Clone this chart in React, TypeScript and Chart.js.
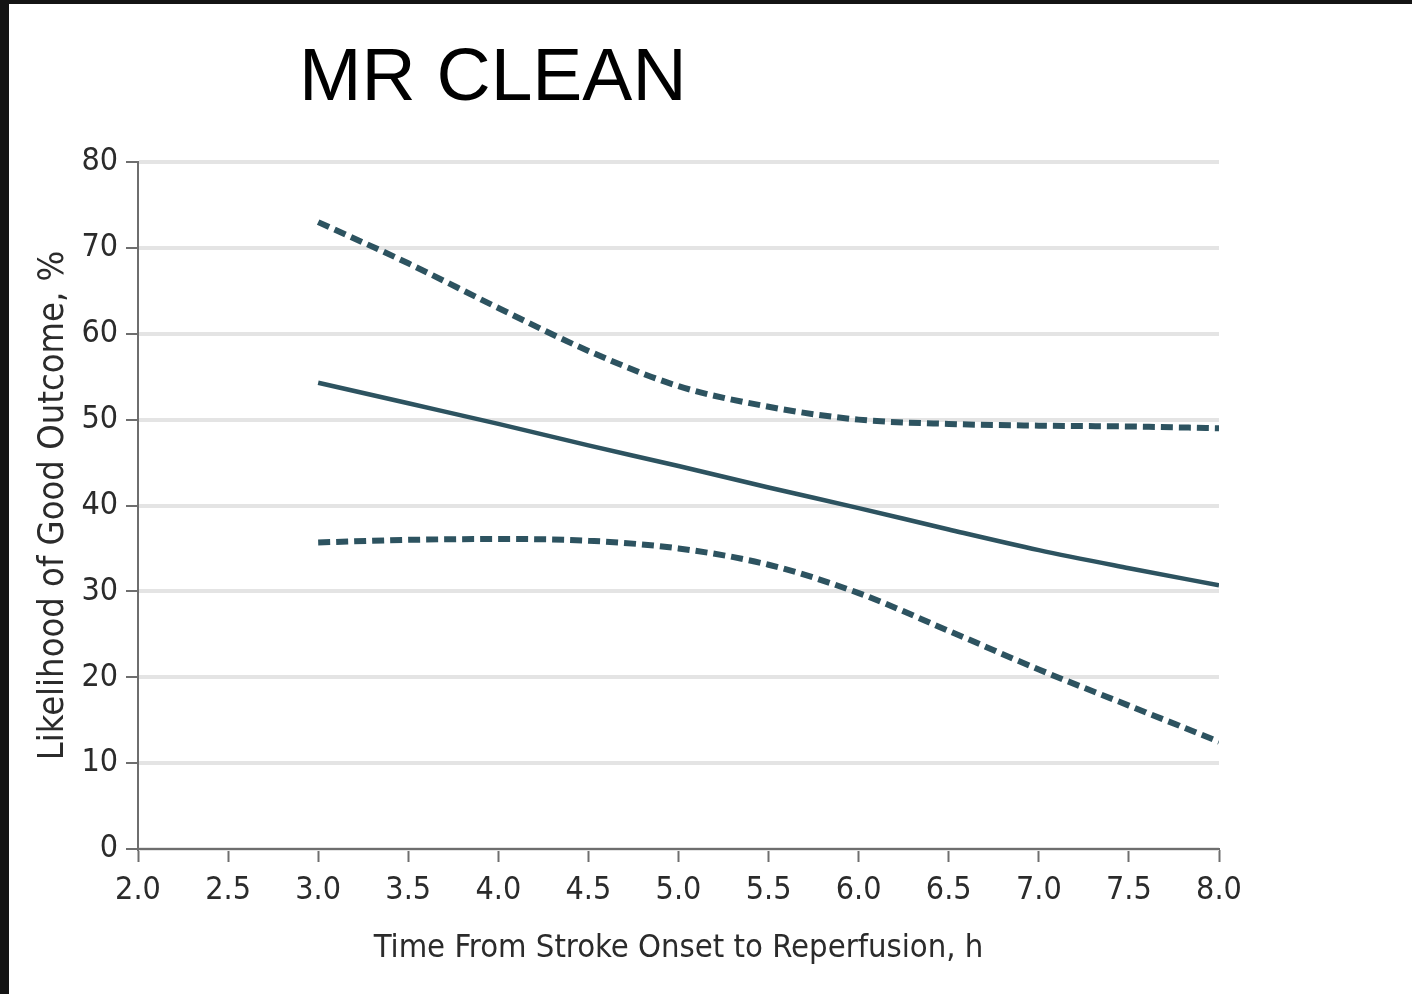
import React, { useEffect, useRef } from "react";
import { Chart, registerables } from "chart.js";

Chart.register(...registerables);

const TITLE = "MR CLEAN";
const X_TITLE = "Time From Stroke Onset to Reperfusion, h";
const Y_TITLE = "Likelihood of Good Outcome, %";

const hours = [3.0, 3.5, 4.0, 4.5, 5.0, 5.5, 6.0, 6.5, 7.0, 7.5, 8.0];
const estimate = [54.3, 51.9, 49.5, 47.0, 44.6, 42.1, 39.7, 37.2, 34.8, 32.7, 30.7];
const upperCI = [73.0, 68.2, 63.0, 58.0, 53.9, 51.5, 50.0, 49.5, 49.3, 49.2, 49.0];
const lowerCI = [35.7, 36.0, 36.1, 35.9, 35.0, 33.1, 29.8, 25.4, 20.9, 16.7, 12.5];

const LINE_COLOR = "#2d5360";
const AXIS_COLOR = "#6e6e6e";
const TEXT_COLOR = "#2b2b2b";
const FONT = "'Liberation Sans Narrow', 'DejaVu Sans Condensed', 'Arial Narrow', sans-serif";

const toPoints = (ys: number[]) => hours.map((h, i) => ({ x: h, y: ys[i] }));

export default function App() {
  const ref = useRef<HTMLCanvasElement | null>(null);

  useEffect(() => {
    if (!ref.current) return;
    const chart = new Chart(ref.current, {
      type: "line",
      data: {
        datasets: [
          {
            label: "Upper 95% CI",
            data: toPoints(upperCI),
            borderColor: LINE_COLOR,
            borderWidth: 6,
            borderDash: [12, 6],
            pointRadius: 0,
            cubicInterpolationMode: "monotone",
            fill: false,
          },
          {
            label: "Estimate",
            data: toPoints(estimate),
            borderColor: LINE_COLOR,
            borderWidth: 4.5,
            pointRadius: 0,
            cubicInterpolationMode: "monotone",
            fill: false,
          },
          {
            label: "Lower 95% CI",
            data: toPoints(lowerCI),
            borderColor: LINE_COLOR,
            borderWidth: 6,
            borderDash: [12, 6],
            pointRadius: 0,
            cubicInterpolationMode: "monotone",
            fill: false,
          },
        ],
      },
      options: {
        animation: false,
        responsive: false,
        maintainAspectRatio: false,
        layout: { padding: { top: 158, right: 193, left: 0, bottom: 0 } },
        plugins: {
          legend: { display: false },
          tooltip: { enabled: false },
          title: { display: false },
        },
        scales: {
          x: {
            type: "linear",
            min: 2,
            max: 8,
            afterFit: (s: any) => {
              s.height = 145;
            },
            ticks: {
              stepSize: 0.5,
              padding: 9,
              maxRotation: 0,
              autoSkip: false,
              color: TEXT_COLOR,
              font: { family: FONT, size: 32 },
              callback: (v: any) => Number(v).toFixed(1),
            },
            grid: {
              drawOnChartArea: false,
              drawTicks: true,
              tickLength: 13,
              tickColor: AXIS_COLOR,
              tickWidth: 2,
              color: AXIS_COLOR,
            },
            border: { display: true, color: AXIS_COLOR, width: 2 },
            title: {
              display: true,
              text: X_TITLE,
              color: TEXT_COLOR,
              font: { family: FONT, size: 32.5 },
              padding: { top: 0, bottom: 26 },
            },
          },
          y: {
            min: 0,
            max: 80,
            afterFit: (s: any) => {
              s.width = 129;
            },
            ticks: {
              stepSize: 10,
              padding: 8,
              color: TEXT_COLOR,
              font: { family: FONT, size: 32 },
            },
            grid: {
              color: "#e4e4e4",
              lineWidth: 4,
              drawTicks: true,
              tickLength: 12,
              tickColor: AXIS_COLOR,
              tickWidth: 2,
            },
            border: { display: true, color: AXIS_COLOR, width: 2 },
            title: {
              display: true,
              text: Y_TITLE,
              color: TEXT_COLOR,
              font: { family: FONT, size: 36 },
              padding: { top: 23, bottom: 0 },
            },
          },
        },
      },
    });
    return () => chart.destroy();
  }, []);

  return (
    <div
      style={{
        position: "fixed",
        left: 0,
        top: 0,
        width: 1412,
        height: 994,
        background: "#141414",
        overflow: "hidden",
      }}
    >
      <div
        style={{
          position: "absolute",
          left: 9,
          top: 4,
          width: 1403,
          height: 990,
          background: "#ffffff",
        }}
      >
        <canvas ref={ref} width={1403} height={990} style={{ display: "block" }} />
        <div
          style={{
            position: "absolute",
            left: 290,
            top: 33,
            fontFamily: "'Liberation Sans', Arial, sans-serif",
            fontSize: 75,
            lineHeight: 1,
            color: "#000",
            whiteSpace: "nowrap",
          }}
        >
          {TITLE}
        </div>
      </div>
    </div>
  );
}
